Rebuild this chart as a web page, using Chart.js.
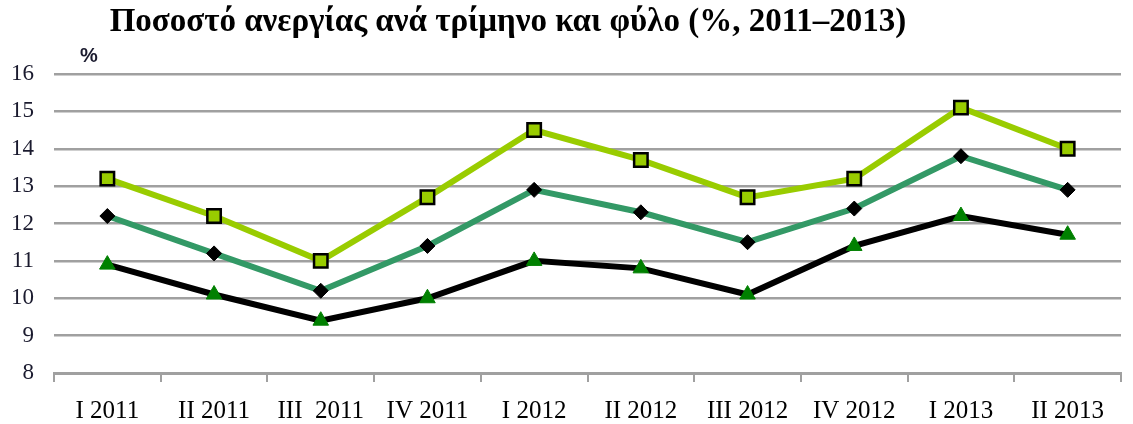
<!DOCTYPE html>
<html>
<head>
<meta charset="utf-8">
<script src="https://cdn.jsdelivr.net/npm/chart.js@4"></script>
<style>
  body { margin: 0; background: #fff; }
  #wrap { position: relative; width: 1133px; height: 424px; }
  #title { position: absolute; left: 0; width: 1016px; top: 2px; text-align: center;
           font: bold 33px "Liberation Serif", serif; color: #000; white-space: nowrap; }
  #unit { position: absolute; left: 80px; top: 44px; font: bold 20px "Liberation Sans", sans-serif; color: #1a1a2e; }
</style>
</head>
<body>
<div id="wrap">
  <canvas id="myChart" width="1133" height="424"></canvas>
  <div id="title">Ποσοστό ανεργίας ανά τρίμηνο και φύλο (%, 2011–2013)</div>
  <div id="unit">%</div>
</div>
<script>
// quarters
var quarters = ['I 2011', 'II 2011', 'III  2011', 'IV 2011', 'I 2012', 'II 2012', 'III 2012', 'IV 2012', 'I 2013', 'II 2013'];
// light green line, square markers
var womenData = [13.2, 12.2, 11.0, 12.7, 14.5, 13.7, 12.7, 13.2, 15.1, 14.0];
// teal line, diamond markers
var totalData = [12.2, 11.2, 10.2, 11.4, 12.9, 12.3, 11.5, 12.4, 13.8, 12.9];
// black line, triangle markers
var menData = [10.9, 10.1, 9.4, 10.0, 11.0, 10.8, 10.1, 11.4, 12.2, 11.7];

var yMin = 8, yMax = 16, yStep = 1;

var ctx = document.getElementById('myChart').getContext('2d');

var chart = new Chart(ctx, {
    type: 'line',
    data: {
        labels: quarters,
        datasets: [{
            label: 'Γυναίκες',
            data: womenData,
            borderColor: '#99cc00',
            borderWidth: 6,
            pointStyle: 'rect',
            pointRadius: 9.5,
            pointBackgroundColor: '#99cc00',
            pointBorderColor: '#000',
            pointBorderWidth: 2.5,
            tension: 0
        }, {
            label: 'Σύνολο',
            data: totalData,
            borderColor: '#339966',
            borderWidth: 6,
            pointStyle: 'rectRot',
            pointRadius: 7.5,
            pointBackgroundColor: '#000',
            pointBorderColor: '#000',
            pointBorderWidth: 1,
            tension: 0
        }, {
            label: 'Άνδρες',
            data: menData,
            borderColor: '#000',
            borderWidth: 6,
            pointStyle: 'triangle',
            pointRadius: 9,
            pointBackgroundColor: '#008000',
            pointBorderColor: '#008000',
            pointBorderWidth: 1,
            tension: 0
        }]
    },
    options: {
        responsive: false,
        animation: false,
        layout: { padding: { top: 74, right: 10, left: 0, bottom: 0 } },
        plugins: {
            legend: { display: false },
            tooltip: { enabled: false }
        },
        scales: {
            x: {
                offset: true,
                grid: {
                    offset: true,
                    drawOnChartArea: false,
                    drawTicks: true,
                    tickLength: 9,
                    color: '#a0a0a0',
                    lineWidth: 2
                },
                border: { color: '#a0a0a0', width: 3 },
                ticks: {
                    padding: 14,
                    color: '#000',
                    maxRotation: 0,
                    autoSkip: false,
                    font: { family: 'Liberation Serif', size: 25 }
                },
                afterFit: function (scale) { scale.height = 51; }
            },
            y: {
                min: yMin,
                max: yMax,
                ticks: {
                    stepSize: yStep,
                    padding: 20,
                    color: '#1a1a2e',
                    font: { family: 'Liberation Serif', size: 23 }
                },
                grid: {
                    drawTicks: false,
                    color: '#a0a0a0',
                    lineWidth: 2.5
                },
                border: { display: false },
                afterFit: function (scale) { scale.width = 54; }
            }
        }
    }
});
</script>
</body>
</html>
